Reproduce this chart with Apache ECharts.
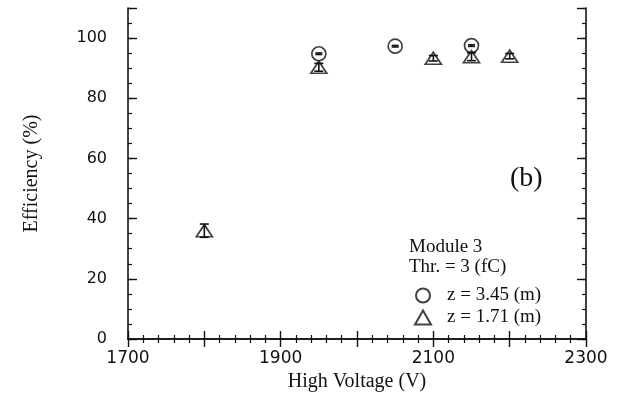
<!DOCTYPE html>
<html><head><meta charset="utf-8">
<script src="https://cdn.jsdelivr.net/npm/echarts@6/dist/echarts.min.js"></script>
<style>html,body{margin:0;padding:0;background:#fff}#c{width:620px;height:407px}</style>
</head><body><div id="c"></div>
<script>
const circleVoltage = [1950, 2050, 2150];
const circleEff = [94.8, 97.3, 97.5];
const circleErr = [0.25, 0.25, 0.25];
const triVoltage = [1800, 1950, 2100, 2150, 2200];
const triEff = [36, 90.3, 93.3, 93.8, 94];
const triErr = [2.2, 1.3, 0.9, 1.3, 0.9];
const xLabels = [1700, 1900, 2100, 2300];
const yLabels = [0, 20, 40, 60, 80, 100];
const seriesNames = ['z = 3.45 (m)', 'z = 1.71 (m)'];

const serif = 'Liberation Serif';
const sans = 'DejaVu Sans';
const ink = '#111';

const errData = [];
circleVoltage.forEach((v, i) => errData.push([v, circleEff[i] - circleErr[i], circleEff[i] + circleErr[i], 3.5]));
triVoltage.forEach((v, i) => errData.push([v, triEff[i] - triErr[i], triEff[i] + triErr[i], 4.5]));

function errRender(params, api) {
  const x = api.value(0);
  const lo = api.coord([x, api.value(1)]);
  const hi = api.coord([x, api.value(2)]);
  const w = api.value(3);
  const st = { stroke: ink, lineWidth: 1.6 };
  return { type: 'group', children: [
    { type: 'line', shape: { x1: lo[0], y1: lo[1], x2: hi[0], y2: hi[1] }, style: st },
    { type: 'line', shape: { x1: lo[0] - w, y1: lo[1], x2: lo[0] + w, y2: lo[1] }, style: st },
    { type: 'line', shape: { x1: hi[0] - w, y1: hi[1], x2: hi[0] + w, y2: hi[1] }, style: st }
  ]};
}

const axisLine = { show: true, lineStyle: { color: ink, width: 1.6 } };
const chart = echarts.init(document.getElementById('c'));
chart.setOption({
  animation: false,
  backgroundColor: '#fff',
  grid: { left: 128, right: 34, top: 8, bottom: 68 },
  legend: {
    data: seriesNames, orient: 'vertical', left: 409, top: 281, itemGap: 3,
    itemWidth: 16, itemHeight: 14, selectedMode: false,
    textStyle: { fontFamily: serif, fontSize: 19, color: ink, padding: [0, 0, 0, 11] }
  },
  graphic: [
    { type: 'text', left: 510, top: 165, style: { text: '(b)', font: '28px "Liberation Serif"', fill: ink } },
    { type: 'text', left: 409, top: 238, style: { text: 'Module 3', font: '19px "Liberation Serif"', fill: ink } },
    { type: 'text', left: 409, top: 258, style: { text: 'Thr. = 3 (fC)', font: '19px "Liberation Serif"', fill: ink } }
  ],
  xAxis: [
    { type: 'value', min: 1700, max: 2300, interval: 100, position: 'bottom',
      name: 'High Voltage (V)', nameLocation: 'middle', nameGap: 27,
      nameTextStyle: { fontFamily: serif, fontSize: 20, color: ink },
      axisLine, splitLine: { show: false },
      axisTick: { inside: true, length: 8, lineStyle: { color: ink, width: 1.4 } },
      minorTick: { show: true, splitNumber: 5, length: 4, lineStyle: { color: ink, width: 1.2 } },
      axisLabel: { margin: 11, fontFamily: sans, fontSize: 17, color: ink,
        formatter: v => xLabels.includes(v) ? String(v) : '' } },
    { type: 'value', min: 1700, max: 2300, interval: 100, position: 'top',
      axisLine, splitLine: { show: false }, axisLabel: { show: false },
      axisTick: { inside: true, length: 8, lineStyle: { color: ink, width: 1.4 } },
      minorTick: { show: true, splitNumber: 5, length: 4, lineStyle: { color: ink, width: 1.2 } } }
  ],
  yAxis: [
    { type: 'value', min: 0, max: 110, interval: 20, position: 'left',
      name: 'Efficiency (%)', nameLocation: 'middle', nameGap: 86,
      nameTextStyle: { fontFamily: serif, fontSize: 20, color: ink },
      axisLine, splitLine: { show: false },
      axisTick: { inside: true, length: 9, lineStyle: { color: ink, width: 1.4 } },
      axisLabel: { margin: 21, fontFamily: sans, fontSize: 16, color: ink,
        formatter: v => yLabels.includes(v) ? String(v) : '' } },
    { type: 'value', min: 0, max: 110, interval: 5, position: 'left', offset: 0,
      axisLine: { show: false }, splitLine: { show: false }, axisLabel: { show: false },
      axisTick: { inside: true, length: 4, lineStyle: { color: ink, width: 1.2 } } },
    { type: 'value', min: 0, max: 110, interval: 20, position: 'right',
      axisLine, splitLine: { show: false }, axisLabel: { show: false },
      axisTick: { inside: true, length: 9, lineStyle: { color: ink, width: 1.4 } } },
    { type: 'value', min: 0, max: 110, interval: 5, position: 'right', offset: 0,
      axisLine: { show: false }, splitLine: { show: false }, axisLabel: { show: false },
      axisTick: { inside: true, length: 4, lineStyle: { color: ink, width: 1.2 } } }
  ],
  series: [
    { type: 'custom', name: 'err', renderItem: errRender, data: errData, z: 3,
      encode: { x: 0, y: [1, 2] } },
    { type: 'scatter', name: seriesNames[0], symbol: 'circle', symbolSize: 14,
      itemStyle: { color: 'rgba(255,255,255,0)', borderColor: ink, borderWidth: 1.7 },
      data: circleVoltage.map((v, i) => [v, circleEff[i]]), z: 4 },
    { type: 'scatter', name: seriesNames[1], symbol: 'triangle', symbolSize: [16, 12],
      itemStyle: { color: 'rgba(255,255,255,0)', borderColor: ink, borderWidth: 1.7 },
      data: triVoltage.map((v, i) => [v, triEff[i]]), z: 4 }
  ]
});
</script></body></html>
